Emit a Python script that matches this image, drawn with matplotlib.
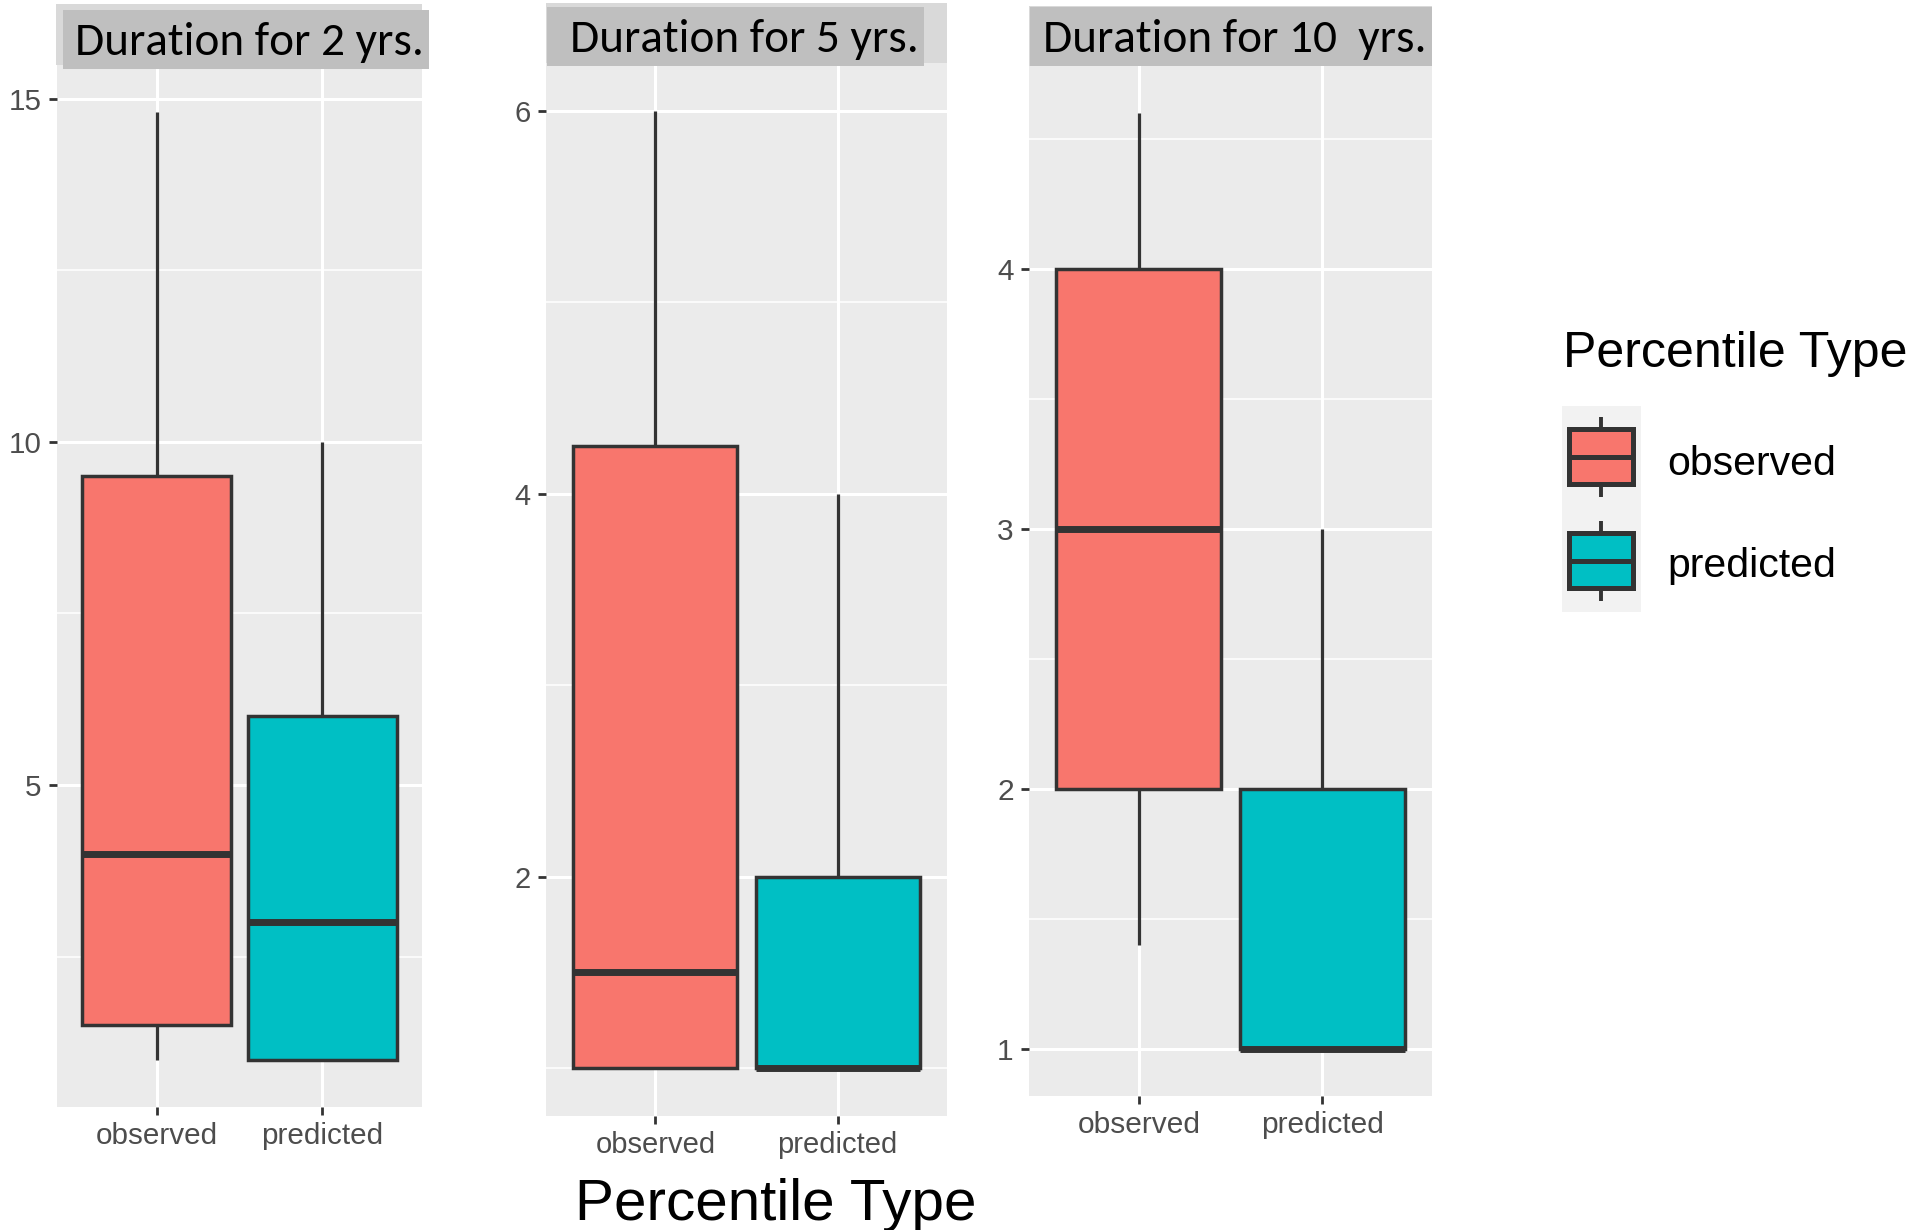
import matplotlib
matplotlib.use('Agg')
import matplotlib.pyplot as plt
from matplotlib import font_manager
from matplotlib.patches import Rectangle

# ---- data -------------------------------------------------------------
categories = ['observed', 'predicted']
panel_titles = ['Duration for 2 yrs.', 'Duration for 5 yrs.', 'Duration for 10  yrs.']
legend_title = 'Percentile Type'
x_title = 'Percentile Type'

# lower whisker, Q1, median, Q3, upper whisker
obs_2yr = [1.0, 1.5, 4.0, 9.5, 14.8]
pred_2yr = [1.0, 1.0, 3.0, 6.0, 10.0]
obs_5yr = [1.0, 1.0, 1.5, 4.25, 6.0]
pred_5yr = [1.0, 1.0, 1.0, 2.0, 4.0]
obs_10yr = [1.4, 2.0, 3.0, 4.0, 4.6]
pred_10yr = [1.0, 1.0, 1.0, 2.0, 3.0]

yticks_2yr = [5, 10, 15]
yticks_5yr = [2, 4, 6]
yticks_10yr = [1, 2, 3, 4]
yminor_2yr = [2.5, 7.5, 12.5]
yminor_5yr = [1, 3, 5]
yminor_10yr = [1.5, 2.5, 3.5, 4.5]

fill_colors = ['#F8766D', '#00BFC4']

# ---- fonts ------------------------------------------------------------
available = {f.name for f in font_manager.fontManager.ttflist}


def pick(*names):
    for n in names:
        if n in available:
            return n
    return 'DejaVu Sans'


ARIAL = pick('Liberation Sans', 'Arial')
NARROW = pick('Liberation Sans Narrow', 'Arial Narrow')
narrow_k = 1.0 if NARROW != 'DejaVu Sans' else 0.82
if NARROW == 'DejaVu Sans':
    NARROW = ARIAL
CALIBRI = pick('Carlito', 'Calibri', 'Lato', 'Open Sans')
cal_size = 34 if CALIBRI in ('Carlito', 'Calibri') else 30

W, H = 1933, 1230
fig = plt.figure(figsize=(W / 100, H / 100), dpi=100)
fig.patch.set_facecolor('white')


def px_axes(left, top, right, bottom):
    return fig.add_axes([left / W, 1 - bottom / H, (right - left) / W, (bottom - top) / H])


panels = [
    dict(rect=(57, 65, 422, 1107), strip=(56, 4, 422, 65), box=(63, 10, 429, 69), tx=75, ty=55,
         stats=(obs_2yr, pred_2yr), yt=yticks_2yr, ym=yminor_2yr, font=NARROW, fs=26 * narrow_k, xpad=5),
    dict(rect=(546, 63, 947, 1116), strip=(546, 3, 947, 63), box=(547, 7, 924, 66), tx=570, ty=52,
         stats=(obs_5yr, pred_5yr), yt=yticks_5yr, ym=yminor_5yr, font=ARIAL, fs=21, xpad=5),
    dict(rect=(1029, 66, 1432, 1096), strip=(1029, 6, 1432, 66), box=(1030, 7, 1432, 66), tx=1043, ty=52,
         stats=(obs_10yr, pred_10yr), yt=yticks_10yr, ym=yminor_10yr, font=ARIAL, fs=21.5, xpad=5),
]

edge = '#333333'
for p in panels:
    ax = px_axes(*p['rect'])
    ax.set_facecolor('#EBEBEB')
    for s in ax.spines.values():
        s.set_visible(False)
    stats = []
    for vals, lab in zip(p['stats'], categories):
        lo, q1, med, q3, hi = vals
        stats.append(dict(whislo=lo, q1=q1, med=med, q3=q3, whishi=hi, label=lab, fliers=[]))
    bp = ax.bxp(stats, positions=[1, 2], widths=0.9, patch_artist=True,
                showcaps=False, showfliers=False,
                boxprops=dict(edgecolor=edge, linewidth=2.5),
                whiskerprops=dict(color=edge, linewidth=2.3, solid_capstyle='butt'),
                medianprops=dict(color=edge, linewidth=5, solid_capstyle='butt'))
    for patch, c in zip(bp['boxes'], fill_colors):
        patch.set_facecolor(c)
    lo = min(min(v) for v in p['stats'])
    hi = max(max(v) for v in p['stats'])
    pad = (hi - lo) * 0.05
    ax.set_ylim(lo - pad, hi + pad)
    ax.set_xlim(0.4, 2.6)
    ax.set_xticks([1, 2])
    ax.set_xticklabels(categories)
    ax.set_yticks(p['yt'])
    ax.set_yticks(p['ym'], minor=True)
    ax.set_axisbelow(True)
    ax.grid(which='major', color='white', linewidth=2.2)
    ax.grid(which='minor', axis='y', color='white', linewidth=1.1)
    ax.tick_params(which='major', length=6, width=2, color=edge, labelcolor='#4D4D4D')
    ax.tick_params(which='minor', length=0)
    ax.tick_params(axis='x', pad=p['xpad'])
    ax.tick_params(axis='y', pad=5)
    for lab in ax.get_xticklabels() + ax.get_yticklabels():
        lab.set_fontfamily(p['font'])
        lab.set_fontsize(p['fs'])

# overlay for strips, titles and legend
ov = fig.add_axes([0, 0, 1, 1], zorder=10)
ov.set_xlim(0, W)
ov.set_ylim(H, 0)
ov.axis('off')
ov.patch.set_alpha(0)

for p, title in zip(panels, panel_titles):
    x0, y0, x1, y1 = p['strip']
    ov.add_patch(Rectangle((x0, y0), x1 - x0, y1 - y0, facecolor='#D9D9D9', edgecolor='none'))
    x0, y0, x1, y1 = p['box']
    ov.add_patch(Rectangle((x0, y0), x1 - x0, y1 - y0, facecolor='#BFBFBF', edgecolor='none'))
    ov.text(p['tx'], p['ty'], title, fontfamily=CALIBRI, fontsize=cal_size, color='black',
            ha='left', va='baseline')

# x axis title
ov.text(575, 1220, x_title, fontfamily=ARIAL, fontsize=42, color='black', ha='left', va='baseline')

# legend
ov.text(1563, 367, legend_title, fontfamily=NARROW, fontsize=44 * narrow_k, color='black',
        ha='left', va='baseline')
ov.add_patch(Rectangle((1562, 406), 79, 206, facecolor='#F2F2F2', edgecolor='none'))
key_tops = [429, 533]
label_base = [475, 577]
for top, base, c, lab in zip(key_tops, label_base, fill_colors, categories):
    ov.plot([1601, 1601], [top - 12, top + 68], color=edge, linewidth=2.8, solid_capstyle='butt', zorder=1)
    ov.add_patch(Rectangle((1569, top), 64, 55, facecolor=c, edgecolor=edge, linewidth=3.6, zorder=2))
    ov.plot([1569, 1633], [top + 27.5, top + 27.5], color=edge, linewidth=3.6, solid_capstyle='butt', zorder=3)
    ov.text(1667, base, lab, fontfamily=NARROW, fontsize=36 * narrow_k, color='black',
            ha='left', va='baseline')

fig.savefig('out.png', dpi=100, facecolor='white')
